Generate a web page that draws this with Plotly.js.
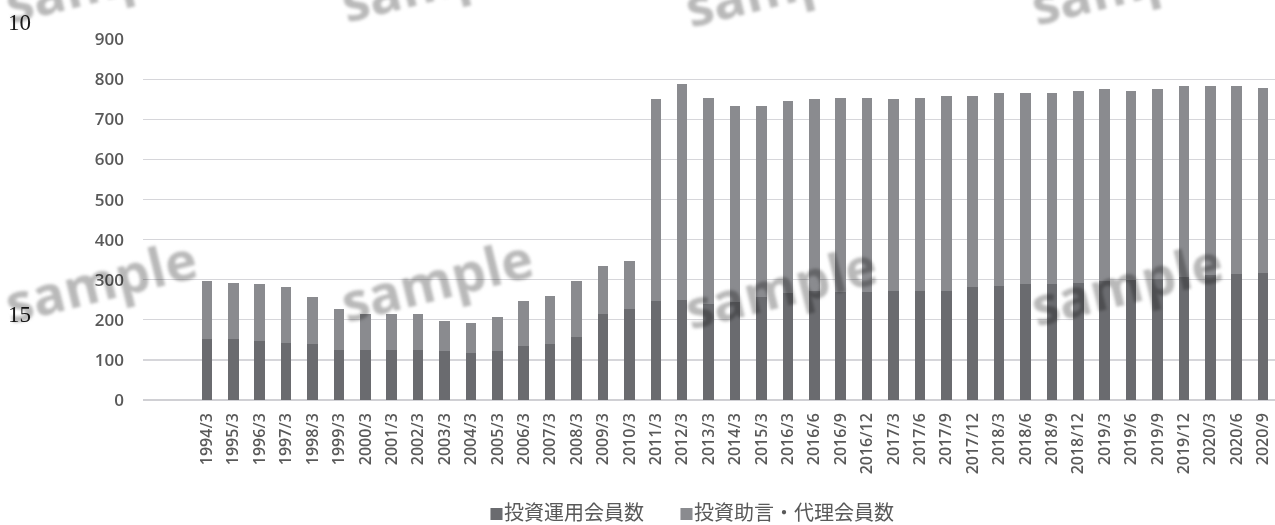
<!DOCTYPE html>
<html>
<head>
<meta charset="utf-8">
<script src="https://cdn.plot.ly/plotly-3.0.1.min.js"></script>
<style>
  html, body { margin: 0; padding: 0; background: #ffffff; }
  #chart { width: 1275px; height: 525px; }
</style>
</head>
<body>
<div id="chart"></div>
<script>
// Period labels (year/month)
const periods = [
  '1994/3','1995/3','1996/3','1997/3','1998/3','1999/3','2000/3','2001/3','2002/3','2003/3',
  '2004/3','2005/3','2006/3','2007/3','2008/3','2009/3','2010/3','2011/3','2012/3','2013/3',
  '2014/3','2015/3','2016/3','2016/6','2016/9','2016/12','2017/3','2017/6','2017/9','2017/12',
  '2018/3','2018/6','2018/9','2018/12','2019/3','2019/6','2019/9','2019/12','2020/3','2020/6','2020/9'
];

// 投資運用会員数
const managementMembers = [
  151, 151, 148, 143, 140, 126, 126, 126, 126, 123,
  118, 123, 135, 140, 156, 215, 226, 248, 250, 240,
  244, 257, 268, 272, 269, 269, 273, 273, 273, 281,
  285, 289, 290, 293, 297, 300, 302, 308, 311, 314, 318
];

// 投資助言・代理会員数
const advisoryMembers = [
  147, 142, 141, 138, 116, 100, 89, 89, 89, 75,
  75, 83, 113, 120, 142, 120, 122, 502, 538, 514,
  490, 477, 478, 478, 485, 485, 477, 481, 485, 477,
  482, 478, 477, 478, 478, 471, 473, 475, 472, 469, 461
];

const seriesNames = ['投資運用会員数', '投資助言・代理会員数'];
const seriesColors = ['#6a6b6f', '#8a8b8f'];

const yTicks = [0, 100, 200, 300, 400, 500, 600, 700, 800, 900];

const axisFont = { family: 'Open Sans, sans-serif', size: 17, color: '#595959', weight: 600 };

const traces = [
  {
    type: 'bar', name: seriesNames[0], x: periods, y: managementMembers,
    marker: { color: seriesColors[0], line: { width: 0 } }, showlegend: false
  },
  {
    type: 'bar', name: seriesNames[1], x: periods, y: advisoryMembers,
    marker: { color: seriesColors[1], line: { width: 0 } }, showlegend: false
  }
];

// Plot area geometry (pixels) used to place paper-referenced text
const L = 143, R = 1275, T = 39, B = 400;
const px = v => (v - L) / (R - L);
const py = v => (B - v) / (B - T);

const annotations = [];

// Legend row under the axis labels
const legendStarts = [488, 678];
seriesNames.forEach((nm, i) => {
  annotations.push({
    xref: 'paper', yref: 'paper', x: px(legendStarts[i]), y: py(511),
    xanchor: 'left', yanchor: 'middle', showarrow: false, borderpad: 0,
    text: '<span style="color:' + seriesColors[i] + ';font-size:15px">■</span>' + nm,
    font: { family: 'Noto Sans CJK JP, sans-serif', size: 20, color: '#595959' }
  });
});

// Line numbers in the left margin
[['10', 19, 23], ['15', 19, 314]].forEach(([t, x, y]) => {
  annotations.push({
    xref: 'paper', yref: 'paper', x: px(x), y: py(y), xanchor: 'center', yanchor: 'middle',
    showarrow: false, text: t,
    font: { family: 'Liberation Serif, serif', size: 23, color: '#1a1a1a' }
  });
});

// "sample" stamps
const stampCenters = [
  [100, 280], [436, 279], [780, 286], [1126, 283],
  [100, -20], [436, -21], [780, -16], [1126, -18]
];
stampCenters.forEach(([x, y]) => {
  annotations.push({
    xref: 'paper', yref: 'paper', x: px(x), y: py(y), xanchor: 'center', yanchor: 'middle',
    showarrow: false, text: 'sample', textangle: -14,
    font: { family: 'Open Sans, sans-serif', size: 54, color: '#b9b9b9', weight: 700 }
  });
});

const layout = {
  width: 1275, height: 525,
  margin: { l: L, r: 1275 - R, t: T, b: 525 - B, pad: 0 },
  paper_bgcolor: '#ffffff', plot_bgcolor: '#ffffff',
  barmode: 'stack', bargap: 0.6,
  xaxis: {
    type: 'category', range: [-2.42, 40.45],
    tickangle: -90, tickfont: Object.assign({}, axisFont, { size: 16 }),
    showgrid: false, showline: false, zeroline: false, ticks: '',
    ticklabelstandoff: 9, fixedrange: true
  },
  yaxis: {
    range: [0, 900.7], tickvals: yTicks, ticktext: yTicks.map(String),
    tickfont: axisFont, showgrid: true, gridcolor: '#d6d6da', gridwidth: 1.3,
    zeroline: true, zerolinecolor: '#d0d0d4', zerolinewidth: 1.5,
    showline: false, ticks: '', ticklabelstandoff: 18, fixedrange: true
  },
  annotations: annotations,
  showlegend: false
};

Plotly.newPlot('chart', traces, layout, { displayModeBar: false, staticPlot: true }).then(gd => {
  // soft blur filter for the stamps
  const svg = gd.querySelector('svg.main-svg');
  const NS = 'http://www.w3.org/2000/svg';
  let defs = svg.querySelector('defs');
  if (!defs) { defs = document.createElementNS(NS, 'defs'); svg.insertBefore(defs, svg.firstChild); }
  const f = document.createElementNS(NS, 'filter');
  f.setAttribute('id', 'stampSoft');
  f.setAttribute('x', '-20%'); f.setAttribute('y', '-20%');
  f.setAttribute('width', '140%'); f.setAttribute('height', '140%');
  const blur = document.createElementNS(NS, 'feGaussianBlur');
  blur.setAttribute('stdDeviation', '1.4');
  f.appendChild(blur);
  defs.appendChild(f);
  document.querySelectorAll('.annotation').forEach(g => {
    const t = g.querySelector('text');
    if (t && t.textContent === 'sample') {
      t.style.mixBlendMode = 'multiply';
      t.setAttribute('filter', 'url(#stampSoft)');
    }
  });
});
</script>
</body>
</html>
